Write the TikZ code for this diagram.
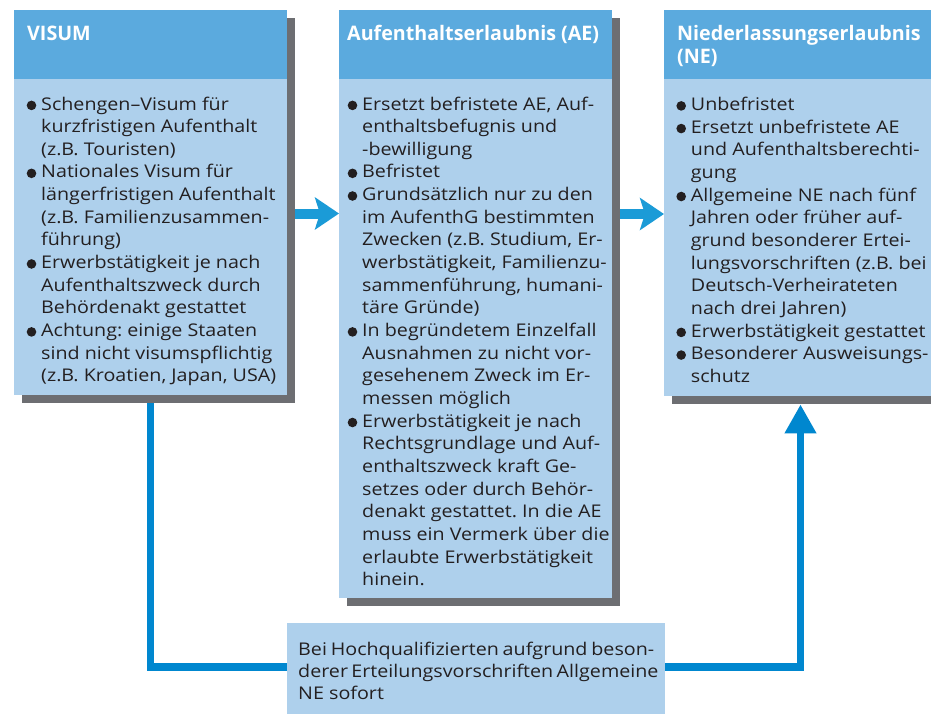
\documentclass[tikz,border=0pt]{standalone}
\usepackage{fontspec}
\setmainfont{Open Sans}
\newfontfamily\bodyff{Open Sans}
\usetikzlibrary{arrows.meta,shadows}
\definecolor{headc}{RGB}{91,170,222}
\definecolor{bodyc}{RGB}{174,208,236}
\definecolor{shadowc}{RGB}{109,110,114}
\definecolor{arrowc}{RGB}{27,155,215}
\definecolor{connc}{RGB}{0,135,207}
\definecolor{textc}{RGB}{35,31,32}
\newcommand\bodyfont{\bodyff\fontsize{17.5}{22}\selectfont\frenchspacing}
\newcommand\headfont{\bodyff\bfseries\fontsize{20}{23}\selectfont}
\newlength\reflen
\newcommand\boxlines[4]{%
  \foreach \t [count=\i from 0] in {#4} {%
    \node[txt] (#1-\i) at (#2,{#3+\i*22.65}) {\scalebox{\sx}[1]{\t}};
  }}
\newcommand\boxbullets[4]{%
  \foreach \k in {#4} {%
    \fill[textc] ({#2-9.5},{#3+\k*22.65-4.6}) circle (4.8pt);
  }}
\tikzset{
  panel/.style={fill=bodyc, draw=none, minimum width=273pt, anchor=north west, inner sep=0pt,
    general shadow={fill=shadowc, shadow xshift=8pt, shadow yshift=-8pt}},
  head/.style={fill=headc, draw=none, minimum width=273pt, minimum height=69pt, anchor=north west, inner sep=0pt},
  txt/.style={anchor=base west, inner sep=0pt, text=textc, font=\bodyfont},
  htxt/.style={anchor=base west, inner sep=0pt, text=white, font=\headfont},
  conn/.style={draw=connc, line width=7.5pt},
  flow/.style={draw=arrowc, line width=10pt, -{Stealth[length=24pt,width=32pt,inset=5pt]}},
}
\begin{document}
\frenchspacing
\settowidth\reflen{\bodyfont (z.B. Kroatien, Japan, USA)}%
\pgfmathsetmacro\sx{235/\reflen}%
\settowidth\reflen{\headfont Aufenthaltserlaubnis (AE)}%
\pgfmathsetmacro\hx{252/\reflen}%
\pgfmathsetlengthmacro\jw{356/\sx}%
\begin{tikzpicture}[x=1pt,y=-1pt]
\useasboundingbox (0,0) rectangle (931,713);
\clip (0,0) rectangle (931,713);
\fill[white] (0,0) rectangle (931,713);

% panels
\node[panel, minimum height=385pt] (visum) at (14,10) {};
\node[head] (visumH) at (visum.north west) {};
\node[panel, minimum height=588pt] (ae) at (339,10) {};
\node[head] (aeH) at (ae.north west) {};
\node[panel, minimum height=386pt] (ne) at (664,10) {};
\node[head] (neH) at (ne.north west) {};

% headers
\node[htxt] (visumT) at (27,40.7) {\scalebox{\hx}[1]{VISUM}};
\node[htxt] (aeT) at (347,40.7) {\scalebox{\hx}[1]{Aufenthaltserlaubnis (AE)}};
\node[htxt] (neT1) at (677,40.7) {\scalebox{\hx}[1]{Niederlassungserlaubnis}};
\node[htxt] (neT2) at (677,63.5) {\scalebox{\hx}[1]{(NE)}};

% body texts
\boxlines{v}{41}{110}{{Schengen–Visum für},{kurzfristigen Aufenthalt},{(z.B. Touristen)},{Nationales Visum für},{längerfristigen Aufenthalt},{(z.B. Familienzusammen-},{führung)},{Erwerbstätigkeit je nach},{Aufenthaltszweck durch},{Behördenakt gestattet},{Achtung: einige Staaten},{sind nicht visumspflichtig},{(z.B. Kroatien, Japan, USA)}}
\boxbullets{v}{41}{110}{0,3,7,10}

\boxlines{a}{362}{110}{{Ersetzt befristete AE, Auf-},{enthaltsbefugnis und},{-bewilligung},{Befristet},{Grundsätzlich nur zu den},{im AufenthG bestimmten},{Zwecken (z.B. Studium, Er-},{werbstätigkeit, Familienzu-},{sammenführung, humani-},{täre Gründe)},{In begründetem Einzelfall},{Ausnahmen zu nicht vor-},{gesehenem Zweck im Er-},{messen möglich},{Erwerbstätigkeit je nach},{Rechtsgrundlage und Auf-},{enthaltszweck kraft Ge-},{setzes oder durch Behör-},{denakt gestattet. In die AE},{muss ein Vermerk über die},{erlaubte Erwerbstätigkeit},{hinein.}}
\boxbullets{a}{362}{110}{0,3,4,10,14}

\boxlines{n}{690.7}{110.5}{{Unbefristet},{Ersetzt unbefristete AE},{und Aufenthaltsberechti-},{gung},{Allgemeine NE nach fünf},{Jahren oder früher auf-},{grund besonderer Ertei-},{lungsvorschriften (z.B. bei},{Deutsch-Verheirateten},{nach drei Jahren)},{Erwerbstätigkeit gestattet},{Besonderer Ausweisungs-},{schutz}}
\boxbullets{n}{690.7}{110.5}{0,1,4,10,11}

% bottom box
\node[fill=bodyc, draw=none, minimum width=378pt, minimum height=95pt, anchor=north west, inner sep=0pt] (hq) at (287,623) {};
\node[txt] (hq1) at (298,655) {\scalebox{\sx}[1]{\makebox[\jw][s]{Bei Hochqualifizierten aufgrund beson-}}};
\node[txt] (hq2) at (298,677) {\scalebox{\sx}[1]{\makebox[\jw][s]{derer Erteilungsvorschriften Allgemeine}}};
\node[txt] (hq3) at (298,699) {\scalebox{\sx}[1]{NE sofort}};

% connectors
\coordinate (lc) at (150.5,667);
\coordinate (vb) at ([yshift=-8pt]visum.south west);
\draw[conn] (vb -| lc) -- (lc) -- (hq.west |- lc);
\coordinate (rc) at (800.5,667);
\coordinate (nb) at ([yshift=-8pt]ne.south west);
\draw[conn, -{Triangle[length=29pt,width=30pt]}] (hq.east |- rc) -- (rc) -- (nb -| rc);

% flow arrows
\coordinate (a1) at (295,213.5);
\draw[flow] (a1) -- (ae.west |- a1);
\coordinate (a2) at (620,214);
\draw[flow] (a2) -- (ne.west |- a2);
\end{tikzpicture}
\end{document}
